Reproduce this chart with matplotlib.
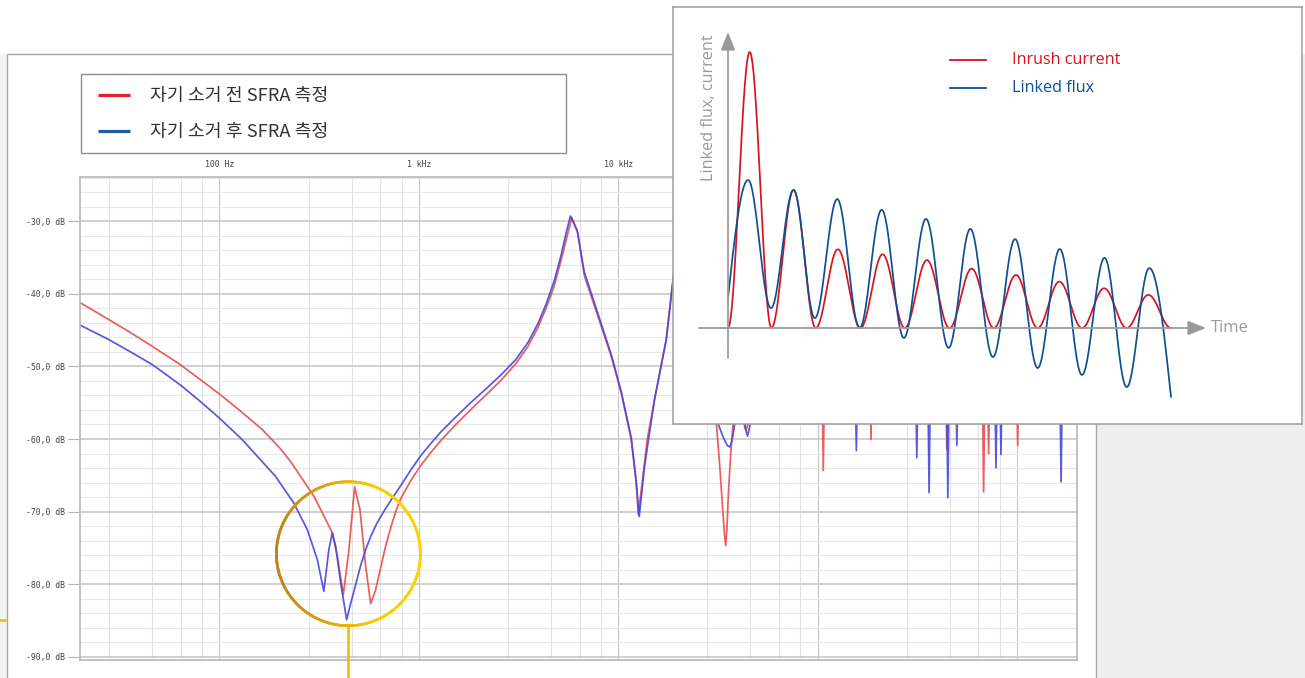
import numpy as np
import matplotlib
matplotlib.use("Agg")
import matplotlib.pyplot as plt
from matplotlib.patches import Rectangle
from matplotlib.collections import LineCollection
from matplotlib.colors import LinearSegmentedColormap
from matplotlib.ticker import FixedLocator, NullFormatter

plt.rcParams["font.family"] = ["Noto Sans CJK KR", "DejaVu Sans"]

# ---------------- SFRA measurement (frequency in Hz, magnitude in dB) ----------------
red_freq = [20.0, 27.8, 35.7, 45.9, 62.4, 78.4, 99.2, 127.5, 164, 202.5, 227.5, 255, 298,
            348, 368.5, 390.5, 418.4, 446.4, 476.8, 507, 541.6, 573.9, 608.0, 644.2, 682.8,
            723.4, 766.2, 812.2, 911.8, 1023.5, 1149, 1290, 1534, 1825, 2171, 2583, 3073,
            3530, 3963, 4347, 4770, 5171, 5542, 5854, 6274, 6772, 7907, 9222, 10354,
            11624, 12316, 12603, 13199, 13985, 15219, 17428, 19186, 21000, 23500, 27000,
            29340, 31080, 32170, 33310, 34090, 34610, 35090, 35710, 36680, 37700, 39170,
            40500, 41990, 42980, 43720, 44480, 45520, 48000, 60000, 80000, 2.0e6]
red_db = [-41.21, -43.52, -45.31, -47.20, -49.59, -51.61, -53.72, -56.14, -58.69, -61.35,
          -63.10, -65.13, -67.89, -71.56, -72.94, -76.17, -81.45, -75.24, -66.59, -69.72,
          -77.54, -82.69, -80.76, -77.72, -74.69, -72.21, -70.00, -68.21, -65.72, -63.66,
          -61.86, -60.21, -58.00, -55.93, -53.93, -51.93, -49.59, -47.24, -44.62, -42.00,
          -38.97, -35.38, -32.07, -29.49, -31.56, -37.54, -43.06, -48.58, -53.63, -60.07,
          -66.04, -70.41, -66.00, -60.07, -54.55, -46.28, -36.17, -33.0, -36.0, -45.0,
          -52.0, -57.9, -63.0, -69.0, -73.0, -74.7, -72.5, -67.5, -62.0, -57.9, -53.0,
          -52.0, -56.0, -58.2, -58.8, -58.2, -56.0, -50.0, -44.0, -48.0, -48.0]
red_notch_freq = [106800, 185300, 444800, 680300, 720800, 1008000]
red_notch_db = [-64.34, -60.07, -61.45, -67.28, -62.04, -60.86]

blue_freq = [20.0, 27.8, 35.7, 45.9, 54.2, 64.9, 80.3, 99.2, 130, 157.0, 191, 236, 276,
             310, 334, 354, 368.5, 383, 406, 434.6, 455.2, 482.3, 510.9, 541.6, 573.9,
             615.1, 667.2, 723.4, 812.2, 911.8, 1023.5, 1149, 1290, 1534, 1825, 2171, 2583,
             3073, 3530, 3963, 4347, 4770, 5171, 5478, 5759, 6223, 6747, 7907, 9222, 10354,
             11624, 12316, 12750, 13562, 15219, 17428, 19186, 21000, 23500, 27000, 29800,
             31700, 32930, 34200, 35290, 36250, 36970, 37700, 38400, 40000, 42480, 43470,
             44480, 45520, 46590, 50000, 70000, 100000, 2.0e6]
blue_db = [-44.30, -46.28, -47.97, -49.72, -51.14, -52.72, -54.83, -57.03, -60.07, -62.55,
           -65.13, -68.80, -72.48, -76.62, -80.99, -75.24, -72.94, -74.79, -79.83, -84.90,
           -82.69, -80.07, -77.45, -75.24, -73.45, -71.66, -70.00, -68.48, -66.41, -64.28,
           -62.28, -60.62, -59.03, -56.97, -54.97, -53.10, -51.17, -49.03, -46.69, -44.07,
           -41.45, -38.28, -34.69, -31.66, -29.27, -31.24, -36.90, -42.69, -48.34, -53.45,
           -59.79, -65.86, -70.69, -63.75, -54.55, -46.28, -36.17, -33.0, -36.0, -44.0,
           -52.0, -57.9, -59.1, -60.2, -60.9, -61.1, -60.5, -59.4, -57.9, -53.0, -56.0,
           -58.5, -59.6, -58.5, -56.0, -50.0, -45.0, -48.0, -48.0]
blue_notch_freq = [156500, 314500, 362500, 450100, 499500, 784600, 831300, 1664000]
blue_notch_db = [-61.59, -62.55, -67.38, -68.07, -60.86, -63.97, -62.14, -65.90]

notch_level = -48.0
x_major = [100, 1e3, 1e4, 1e5, 1e6]
x_major_labels = ["100 Hz", "1 kHz", "10 kHz", "100 kHz", "1 MHz"]
y_major = [-90, -80, -70, -60, -50, -40, -30]
legend_labels = ["자기 소거 전 SFRA 측정", "자기 소거 후 SFRA 측정"]

# ---------------- inrush sketch (time in cycles, amplitude relative to first current peak) --
current_t = [0.0, 0.49, 0.98, 1.48, 1.98, 2.48, 2.99, 3.49, 3.99, 4.49, 5.0, 5.50, 6.0,
             6.50, 6.99, 7.48, 7.99, 8.49, 9.0, 9.49, 10.0]
current_v = [0.0, 1.0, 0.0, 0.50, 0.0, 0.285, 0.0, 0.267, 0.0, 0.246, 0.0, 0.215, 0.0,
             0.192, 0.0, 0.168, 0.0, 0.144, 0.0, 0.120, 0.0]
flux_t = [0.0, 0.454, 0.97, 1.48, 1.96, 2.466, 2.97, 3.47, 3.97, 4.47, 4.98, 5.47, 5.98,
          6.48, 6.99, 7.49, 7.99, 8.50, 9.0, 9.51, 10.0]
flux_v = [0.109, 0.536, 0.072, 0.50, 0.036, 0.467, 0.0, 0.428, -0.036, 0.395, -0.072, 0.359,
          -0.105, 0.322, -0.145, 0.286, -0.170, 0.254, -0.214, 0.217, -0.249]
inset_labels = ["Inrush current", "Linked flux"]

W, H = 1305, 678
fig = plt.figure(figsize=(W / 100, H / 100), dpi=100)
fig.patch.set_facecolor("white")


def box(x0, y0, x1, y1):
    """Axes rectangle from pixel corners (y measured from the top)."""
    return [x0 / W, 1 - y1 / H, (x1 - x0) / W, (y1 - y0) / H]


# ---------------- page background, panel and legend ----------------
bg = fig.add_axes([0, 0, 1, 1], zorder=0)
bg.set_xlim(0, W)
bg.set_ylim(H, 0)
bg.axis("off")
bg.add_patch(Rectangle((0, 54), 6.5, H, fc="#f3f3f3", ec="none"))
bg.add_patch(Rectangle((1096, 54), W - 1096, H, fc="#efefef", ec="none"))
bg.add_patch(Rectangle((7, 54), 1089, H, fc="white", ec="#a8a8a8", lw=1.0))
bg.add_patch(Rectangle((80.5, 73.5), 485, 79.5, fc="white", ec="#8e8e8e", lw=1.0))
for yy, col, lab in [(95, "#e3222b", legend_labels[0]), (130.5, "#1f5aa6", legend_labels[1])]:
    bg.plot([98, 130], [yy, yy], color=col, lw=2.3, solid_capstyle="butt")
    bg.text(150, yy + 1.5, lab, fontsize=13.2, color="#333333", va="center", ha="left")

# ---------------- SFRA plot ----------------
ax = fig.add_axes(box(80, 177, 1077, 660), zorder=1)
ax.set_facecolor("white")
ax.set_xscale("log")
ax.set_xlim(20, 2e6)
ax.set_ylim(-90.45, -23.9)

minor_x = [m * 10 ** k for k in range(1, 7) for m in (2.8, 4.6, 6.4, 8.2) if 20 <= m * 10 ** k <= 2e6]
ax.xaxis.set_major_locator(FixedLocator(x_major))
ax.xaxis.set_minor_locator(FixedLocator(minor_x))
ax.xaxis.set_minor_formatter(NullFormatter())
ax.set_xticklabels(x_major_labels)
ax.xaxis.tick_top()
ax.tick_params(axis="x", which="both", length=0, pad=6, labelsize=5.9, labelcolor="#444444")

ax.yaxis.set_major_locator(FixedLocator(y_major))
ax.yaxis.set_minor_locator(FixedLocator([v for v in range(-88, -23, 2) if v % 10]))
ax.set_yticklabels([f"{v:.1f} dB".replace(".", ",") for v in y_major])
ax.tick_params(axis="y", which="major", length=9, width=0.8, color="#b5b5b5", pad=1.5,
               labelsize=5.9, labelcolor="#444444")
ax.tick_params(axis="y", which="minor", length=0)
for lab in ax.get_xticklabels() + ax.get_yticklabels():
    lab.set_fontfamily("DejaVu Sans Mono")

ax.set_axisbelow(True)
ax.grid(True, which="minor", axis="x", color="#e2e2e2", lw=0.8)
ax.grid(True, which="major", axis="x", color="#c4c4c4", lw=0.8)
ax.grid(True, which="minor", axis="y", color="#e8e8e8", lw=0.8)
ax.grid(True, which="major", axis="y", color="#cdcdcd", lw=1.3)
for sp in ax.spines.values():
    sp.set_color("#b8b8b8")
    sp.set_linewidth(1.2)


def with_notches(freq, db, nf, nd, width=0.008):
    pts = list(zip(freq, db))
    for f0, d0 in zip(nf, nd):
        pts += [(f0 * 10 ** -width, notch_level), (f0, d0), (f0 * 10 ** width, notch_level)]
    pts.sort()
    return [p[0] for p in pts], [p[1] for p in pts]


rf, rd = with_notches(red_freq, red_db, red_notch_freq, red_notch_db)
bf, bd = with_notches(blue_freq, blue_db, blue_notch_freq, blue_notch_db)
ax.plot(rf, rd, color="#e84c4c", lw=1.25, alpha=0.9)
ax.plot(bf, bd, color="#4646de", lw=1.25, alpha=0.9)

# ---------------- highlight circle and connector ----------------
ov = fig.add_axes([0, 0, 1, 1], zorder=2)
ov.set_xlim(0, W)
ov.set_ylim(H, 0)
ov.axis("off")
ov.patch.set_alpha(0)
cx, cy, r = 348.4, 553.7, 72.0
th = np.linspace(0, 2 * np.pi, 361)
px, py = cx + r * np.cos(th), cy + r * np.sin(th)
segs = np.stack([np.column_stack([px[:-1], py[:-1]]), np.column_stack([px[1:], py[1:]])], axis=1)
gold = LinearSegmentedColormap.from_list("gold", ["#c0851a", "#dba415", "#f6cb02", "#fcd400"])
lc = LineCollection(segs, colors=gold((1 + np.cos(th[:-1] + np.pi / 360)) / 2), lw=2.0,
                    capstyle="round")
ov.add_collection(lc)
ov.plot([cx, cx], [cy + r, H + 2], color="#f0bb00", lw=1.8)
ov.plot([0, 5], [620, 620], color="#f0bb00", lw=1.8)

# ---------------- inrush / flux sketch ----------------
ins = fig.add_axes(box(673, 7, 1302, 424), zorder=3)
ins.set_facecolor("white")
for sp in ins.spines.values():
    sp.set_color("#9d9d9d")
    sp.set_linewidth(1.1)
ins.set_xticks([])
ins.set_yticks([])
T0, TS, A0, AS = 728.0, 44.3, 328.0, 276.0
ins.set_xlim((673 - T0) / TS, (1302 - T0) / TS)
ins.set_ylim((A0 - 424) / AS, (A0 - 7) / AS)


def tpx(x):
    return (x - T0) / TS


def apx(y):
    return (A0 - y) / AS


def eased(ts, vs, open_start=False, open_end=False):
    xs, ys = [], []
    n = len(ts) - 1
    for i in range(n):
        s = np.linspace(0, 1, 40)
        if open_start and i == 0:
            w = np.sin(np.pi / 2 * s)
        elif open_end and i == n - 1:
            w = 1 - np.cos(np.pi / 2 * s)
        else:
            w = (1 - np.cos(np.pi * s)) / 2
        xs.append(ts[i] + (ts[i + 1] - ts[i]) * s)
        ys.append(vs[i] + (vs[i + 1] - vs[i]) * w)
    return np.concatenate(xs), np.concatenate(ys)


grey = "#9a9a9a"
ins.annotate("", xy=(tpx(1206), 0), xytext=(tpx(699), 0),
             arrowprops=dict(arrowstyle="-|>,head_length=0.55,head_width=0.22",
                             mutation_scale=20, color=grey, lw=1.3, shrinkA=0, shrinkB=0))
ins.annotate("", xy=(0, apx(32)), xytext=(0, apx(358)),
             arrowprops=dict(arrowstyle="-|>,head_length=0.55,head_width=0.22",
                             mutation_scale=20, color=grey, lw=1.3, shrinkA=0, shrinkB=0))

xt, yt = eased(current_t, current_v)
ins.plot(xt, yt, color="#d8121f", lw=1.25)
xt, yt = eased(flux_t, flux_v, open_start=True, open_end=True)
ins.plot(xt, yt, color="#0d4f94", lw=1.25)

ins.text(tpx(1211), 0, "Time", color=grey, fontsize=12, va="center", ha="left",
         family=["Open Sans", "DejaVu Sans"])
ins.text(tpx(708.5), apx(108), "Linked flux, current", color=grey, fontsize=11.7,
         rotation=90, va="center", ha="center", family=["Open Sans", "DejaVu Sans"])
for yy, col, lab in [(59.5, "#d8121f", inset_labels[0]), (87.7, "#0d4f94", inset_labels[1])]:
    ins.plot([tpx(949.5), tpx(986)], [apx(yy), apx(yy)], color=col, lw=1.3)
    ins.text(tpx(1012), apx(yy), lab, color=col, fontsize=11.6, va="center", ha="left",
             family=["Open Sans", "DejaVu Sans"])

fig.savefig("out.png", dpi=100)
